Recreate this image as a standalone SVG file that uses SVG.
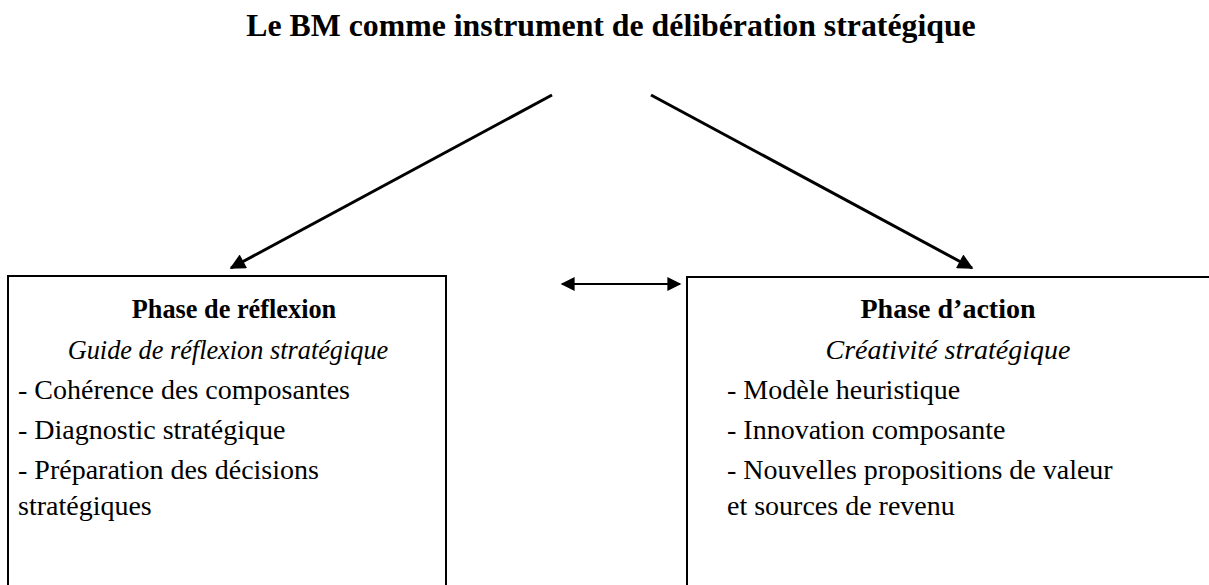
<svg xmlns="http://www.w3.org/2000/svg" width="1209" height="585" viewBox="0 0 1209 585">
<style>
text{font-family:"Liberation Serif","Times New Roman",serif;fill:#000}
.title{font-size:31.8px;font-weight:bold}
.head{font-size:28px;font-weight:bold}
.sub{font-size:28px;font-style:italic}
.body{font-size:28px}
.l{font-size:26.3px}
.box{fill:#fff;stroke:#000;stroke-width:2}
.conn{stroke:#000;stroke-width:3;fill:none}
</style>
<defs>
<marker id="ah" viewBox="0 0 10 10" refX="9" refY="5" markerWidth="5.8" markerHeight="5.2" orient="auto-start-reverse" markerUnits="strokeWidth">
<path d="M0,0 L10,5 L0,10 z" fill="#000"/>
</marker>
<marker id="ah2" viewBox="0 0 10 10" refX="9" refY="5" markerWidth="7.5" markerHeight="7" orient="auto-start-reverse" markerUnits="strokeWidth">
<path d="M0,0 L10,5 L0,10 z" fill="#000"/>
</marker>
</defs>
<rect width="1209" height="585" fill="#fff"/>
<text class="title" x="611" y="36" text-anchor="middle">Le BM comme instrument de délibération stratégique</text>
<g id="connectors">
<line class="conn" x1="552" y1="95" x2="231" y2="268" marker-end="url(#ah)"/>
<line class="conn" x1="651" y1="95" x2="972" y2="268" marker-end="url(#ah)"/>
<line stroke="#000" stroke-width="2" x1="562" y1="284" x2="680" y2="284" marker-start="url(#ah2)" marker-end="url(#ah2)"/>
</g>
<g id="node-reflexion">
<rect class="box" x="8" y="276" width="438" height="320"/>
<text class="head l" x="234" y="318" text-anchor="middle">Phase de réflexion</text>
<text class="sub l" x="228" y="359" text-anchor="middle">Guide de réflexion stratégique</text>
<text class="body" x="18" y="399">- Cohérence des composantes</text>
<text class="body" x="18" y="439">- Diagnostic stratégique</text>
<text class="body" x="18" y="479">- Préparation des décisions</text>
<text class="body" x="18" y="515">stratégiques</text>
</g>
<g id="node-action">
<rect class="box" x="687" y="277" width="540" height="320"/>
<text class="head" x="948" y="318" text-anchor="middle">Phase d’action</text>
<text class="sub" x="948" y="359" text-anchor="middle">Créativité stratégique</text>
<text class="body" x="727" y="399">- Modèle heuristique</text>
<text class="body" x="727" y="439">- Innovation composante</text>
<text class="body" x="727" y="479">- Nouvelles propositions de valeur</text>
<text class="body" x="727" y="515">et sources de revenu</text>
</g>
</svg>
